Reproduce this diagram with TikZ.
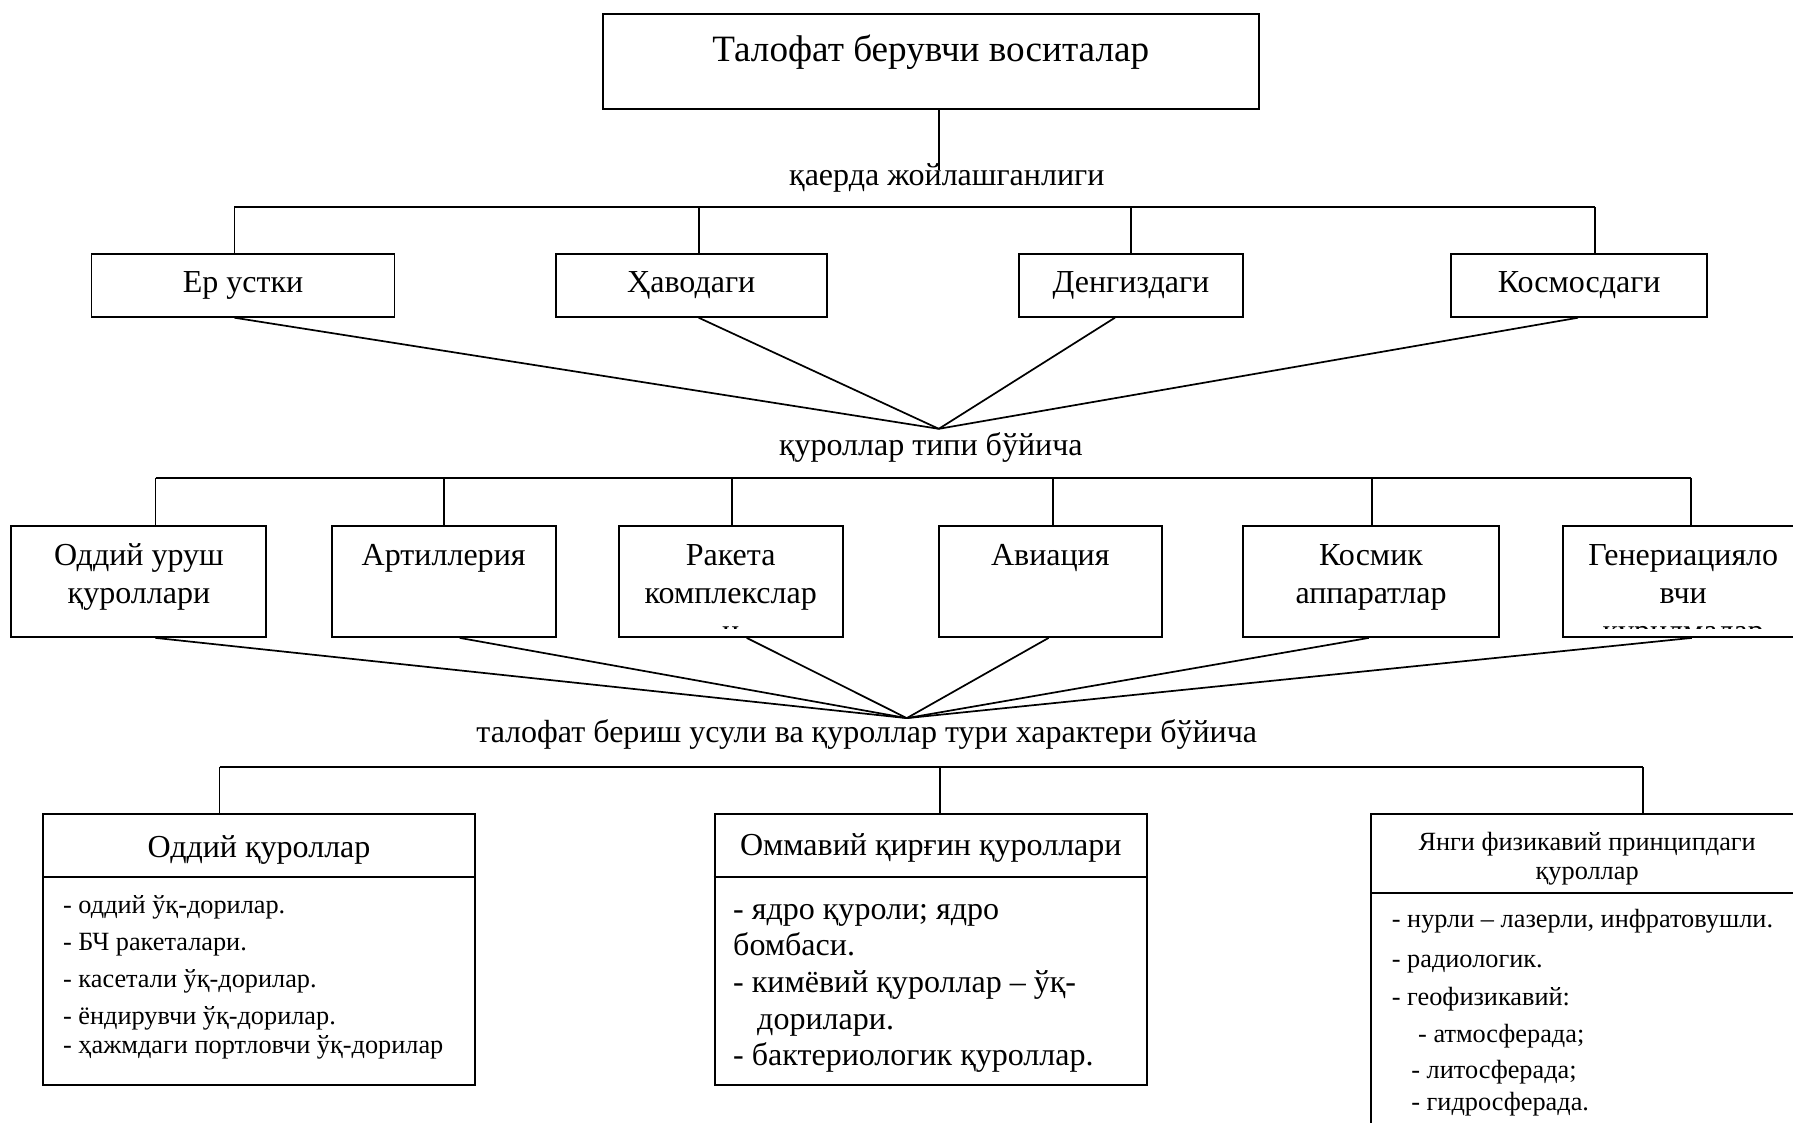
\documentclass[tikz,border=0pt]{standalone}
\usepackage{fontspec}
\setmainfont{Liberation Serif}
\usetikzlibrary{calc}

\tikzset{
  box/.style={draw, line width=1.7pt, inner sep=0pt},
  link/.style={line width=1.5pt},
  titletext/.style={font=\fontsize{32.5}{38}\selectfont, inner sep=0pt},
  rowtext/.style={font=\fontsize{28}{33}\selectfont, inner sep=0pt},
  smalltext/.style={font=\fontsize{23}{25}\selectfont, inner sep=0pt},
  lbl/.style={rowtext, anchor=base},
}

\begin{document}
\begin{tikzpicture}[x=1pt,y=-1pt]
    \useasboundingbox (0,0) rectangle (1568,982);
    \clip (0,0) rectangle (1568,982);

    % top box
    \node[box, minimum width=574pt, minimum height=83pt] (main) at (814,53.5) {};
    \node[titletext, anchor=base] (maintext) at (814,53.5) {Талофат берувчи воситалар};
    \coordinate (s1) at (821,149);
    \draw[link] (main.south -| s1) -- (s1);
    \node[lbl] (where) at (828,162.5) {қаерда жойлашганлиги};

    % where it is placed
    \node[box, rowtext, minimum width=265pt, minimum height=55pt] (ground) at (212.5,249.5) {Ер устки};
    \node[box, rowtext, minimum width=237pt, minimum height=55pt] (air) at (604.5,249.5) {Ҳаводаги};
    \node[box, rowtext, minimum width=196pt, minimum height=55pt] (sea) at (989,249.5) {Денгиздаги};
    \node[box, rowtext, minimum width=224pt, minimum height=55pt] (space) at (1381,249.5) {Космосдаги};

    \coordinate (g1) at (205,181);
    \coordinate (g2) at (611,181);
    \coordinate (g3) at (989,181);
    \coordinate (g4) at (1395,181);
    \draw[link] (g1) -- (g4);
    \foreach \c/\n in {g1/ground, g2/air, g3/sea, g4/space}
        \draw[link] (\c) -- (\c |- \n.north);

    \coordinate (m1) at (821,375);
    \foreach \n/\dx in {ground/-7.5, air/6.5, sea/-14, space/-1}
        \draw[link] ($(\n.south)+(\dx,0)$) -- (m1);
    \node[lbl] (type) at (814,398.5) {қуроллар типи бўйича};

    % weapon types
    \foreach \c/\x in {h1/136, h2/388, h3/640, h4/921, h5/1200, h6/1479}
        \coordinate (\c) at (\x,418);
    \draw[link] (h1) -- (h6);
    \foreach \n/\x/\w/\t in {plain/121.5/223/{Оддий уруш\\қуроллари},
        art/388/196/{Артиллерия},
        rocket/639/196/{Ракета\\комплекслар\\и},
        avia/918.5/195/{Авиация},
        cosm/1199/224/{Космик\\аппаратлар},
        gen/1472/210/{Генериацияло\\вчи\\қурилмалар}}{
        \node[box, minimum width=\w*1pt, minimum height=97pt] (\n) at (\x,508.5) {};
        \begin{scope}
            \clip (\n.north west) rectangle ([yshift=8pt]\n.south east);
            \node[rowtext, align=center, anchor=north] (\n-t) at ($(\n.north)+(0,12.4)$) {\strut\t};
        \end{scope}
    }
    \foreach \c/\n in {h1/plain, h2/art, h3/rocket, h4/avia, h5/cosm, h6/gen}
        \draw[link] (\c) -- (\c |- \n.north);

    \coordinate (m2) at (793,628);
    \foreach \n/\dx in {plain/14.5, art/14, rocket/14, avia/-1.5, cosm/-2, gen/7.5}
        \draw[link] ($(\n.south)+(\dx,0)$) -- (m2);
    \node[lbl] (mode) at (758,649) {талофат бериш усули ва қуроллар тури характери бўйича};

    % kinds of weapons
    \coordinate (k1) at (192,671);
    \coordinate (k2) at (822,671);
    \coordinate (k3) at (1437,671);
    \draw[link] (k1) -- (k3);

    \node[box, minimum width=377pt, minimum height=237pt] (conv) at (226.5,830.5) {};
    \node[box, minimum width=378pt, minimum height=237pt] (mass) at (814,830.5) {};
    \node[box, minimum width=378pt, minimum height=300pt] (newp) at (1388,862) {};
    \foreach \c/\n in {k1/conv, k2/mass, k3/newp}
        \draw[link] (\c) -- (\c |- \n.north);

    \draw[box] ([yshift=-56pt]conv.north west) -- ([yshift=-56pt]conv.north east);
    \draw[box] ([yshift=-56pt]mass.north west) -- ([yshift=-56pt]mass.north east);
    \draw[box] ([yshift=-70pt]newp.north west) -- ([yshift=-70pt]newp.north east);

    \node[rowtext, anchor=base] (conv-h) at (226.5,749.5) {Оддий қуроллар};
    \node[rowtext, anchor=base] (mass-h) at (814,748.5) {Оммавий қирғин қуроллари};
    \node[smalltext, align=center, anchor=north] (newp-h) at (1388,726.5) {\strut Янги физикавий принципдаги\\қуроллар};

    \foreach \y/\t [count=\i] in {799/{- оддий ўқ-дорилар.}, 831.5/{- БЧ ракеталари.},
        863.5/{- касетали ўқ-дорилар.}, 895.5/{- ёндирувчи ўқ-дорилар.},
        921.5/{- ҳажмдаги портловчи ўқ-дорилар}}
        \node[smalltext, anchor=base west] (conv-\i) at (55,\y) {\t};

    \foreach \x/\y/\t [count=\i] in {641/804/{- ядро қуроли; ядро}, 641/836/{бомбаси.},
        641/868/{- кимёвий қуроллар – ўқ-}, 662/900/{дорилари.},
        641/932/{- бактериологик қуроллар.}}
        \node[rowtext, anchor=base west] (mass-\i) at (\x,\y) {\t};

    \foreach \x/\y/\t [count=\i] in {1217/811.5/{- нурли – лазерли, инфратовушли.},
        1217/846.5/{- радиологик.}, 1217/879/{- геофизикавий:},
        1240/912/{- атмосферада;}, 1234/943/{- литосферада;}, 1234/971/{- гидросферада.}}
        \node[smalltext, anchor=base west] (newp-\i) at (\x,\y) {\t};
\end{tikzpicture}
\end{document}
